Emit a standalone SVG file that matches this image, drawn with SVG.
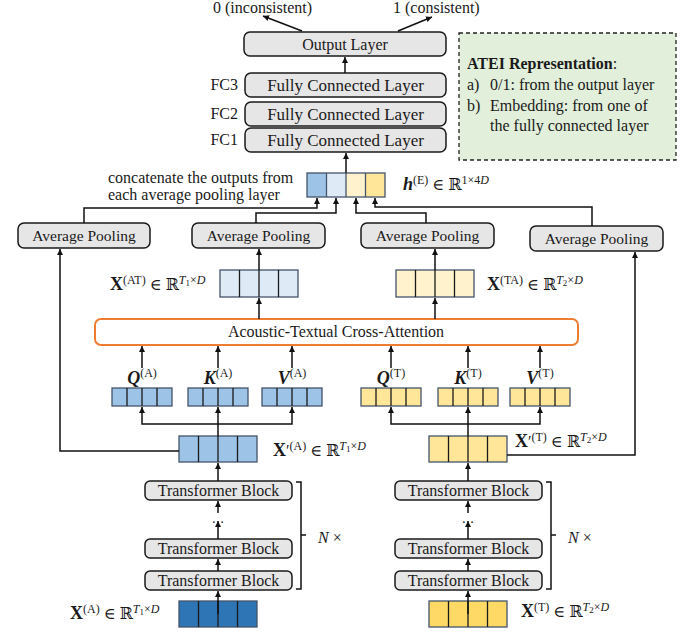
<svg xmlns="http://www.w3.org/2000/svg" width="693" height="635" viewBox="0 0 693 635">
<defs>
<marker id="ah" viewBox="0 0 10 10" refX="10" refY="5" markerWidth="6" markerHeight="6" markerUnits="userSpaceOnUse" orient="auto"><path d="M0,0 L10,5 L0,10 z" fill="#111"/></marker>
<style>
.box{fill:#e7e6e6;stroke:#1a1a1a;stroke-width:1.5}
.t{font-family:"Liberation Serif","Times New Roman",serif;fill:#1a1a1a}
.c{text-anchor:middle}
.ln{fill:none;stroke:#111;stroke-width:1.5}
.ar{fill:none;stroke:#111;stroke-width:1.5;marker-end:url(#ah)}
.vo{stroke:#44546a;stroke-width:1.3}
.dv{stroke:#1a1a1a;stroke-width:1.3}
.m{font-family:"Liberation Serif","DejaVu Serif",serif;fill:#1a1a1a;font-size:16px}
.q{font-size:18px}
.sp{font-size:12px}
.sb{font-size:9px}
.it{font-style:italic}
.b{font-weight:bold}
</style>
</defs>

<g id="top-labels">
<text class="t" x="213" y="13" font-size="16">0 (inconsistent)</text>
<text class="t" x="393" y="13" font-size="16">1 (consistent)</text>
</g>

<g id="output-layer"><rect class="box" x="244" y="32" width="202" height="24" rx="6"/><text class="t c" x="345" y="49.5" font-size="16">Output Layer</text></g>
<g id="fc3"><rect class="box" x="245" y="73" width="201" height="24" rx="6"/><text class="t c" x="345.5" y="90.5" font-size="17">Fully Connected Layer</text><text class="t" x="238" y="90" font-size="16" text-anchor="end">FC3</text></g>
<g id="fc2"><rect class="box" x="245" y="102" width="201" height="24" rx="6"/><text class="t c" x="345.5" y="119.5" font-size="17">Fully Connected Layer</text><text class="t" x="238" y="119" font-size="16" text-anchor="end">FC2</text></g>
<g id="fc1"><rect class="box" x="245" y="128" width="201" height="24" rx="6"/><text class="t c" x="345.5" y="145.5" font-size="17">Fully Connected Layer</text><text class="t" x="238" y="145" font-size="16" text-anchor="end">FC1</text></g>

<g id="atei">
<rect x="459" y="33" width="217" height="127" fill="#e2efda" stroke="#222" stroke-width="1.3" stroke-dasharray="4,3"/>
<text class="t" x="467" y="69" font-size="16"><tspan font-weight="bold">ATEI Representation</tspan>:</text>
<text class="t" x="467" y="90" font-size="16">a)</text><text class="t" x="490" y="90" font-size="16">0/1: from the output layer</text>
<text class="t" x="467" y="111" font-size="16">b)</text><text class="t" x="490" y="111" font-size="16">Embedding: from one of</text>
<text class="t" x="490" y="131" font-size="16">the fully connected layer</text>
</g>

<g id="concat">
<rect x="307" y="173" width="19.5" height="24" fill="#9dc3e6"/>
<rect x="326.5" y="173" width="19.5" height="24" fill="#deebf7"/>
<rect x="346" y="173" width="19.5" height="24" fill="#fff2cc"/>
<rect x="365.5" y="173" width="19.5" height="24" fill="#ffe699"/>
<rect class="vo" x="307" y="173" width="78" height="24" fill="none"/>
<path class="vo" d="M326.5,173V197M346,173V197M365.5,173V197"/>
<text class="t" x="108" y="183" font-size="16">concatenate the outputs from</text>
<text class="t" x="108" y="200" font-size="16">each average pooling layer</text>
<text class="m" x="403" y="190"><tspan class="b it q">h</tspan><tspan class="sp" dy="-6">(E)</tspan><tspan dy="6"> ∈ ℝ</tspan><tspan class="sp" dy="-6">1×4</tspan><tspan class="sp it">D</tspan></text>
</g>

<g id="ap1"><rect class="box" x="18" y="223" width="132" height="25" rx="6"/><text class="t c" x="84" y="240.5" font-size="15.5">Average Pooling</text></g>
<g id="ap2"><rect class="box" x="192" y="223" width="133" height="25" rx="6"/><text class="t c" x="258.5" y="240.5" font-size="15.5">Average Pooling</text></g>
<g id="ap3"><rect class="box" x="361" y="223" width="133" height="25" rx="6"/><text class="t c" x="427.5" y="240.5" font-size="15.5">Average Pooling</text></g>
<g id="ap4"><rect class="box" x="530" y="226" width="133" height="25" rx="6"/><text class="t c" x="596.5" y="243.5" font-size="15.5">Average Pooling</text></g>

<g id="x-at">
<rect class="vo" x="220" y="270" width="78" height="27" fill="#deebf7"/>
<path class="dv" d="M239.5,270V297M259,270V297M278.5,270V297"/>
<text class="m" x="110" y="290"><tspan class="b q">X</tspan><tspan class="sp" dy="-6">(AT)</tspan><tspan dy="6"> ∈ ℝ</tspan><tspan class="sp it" dy="-6">T</tspan><tspan class="sb" dy="2">1</tspan><tspan class="sp" dy="-2">×</tspan><tspan class="sp it">D</tspan></text>
</g>
<g id="x-ta">
<rect class="vo" x="396" y="270" width="78" height="27" fill="#fff2cc"/>
<path class="dv" d="M415.5,270V297M435,270V297M454.5,270V297"/>
<text class="m" x="487" y="290"><tspan class="b q">X</tspan><tspan class="sp" dy="-6">(TA)</tspan><tspan dy="6"> ∈ ℝ</tspan><tspan class="sp it" dy="-6">T</tspan><tspan class="sb" dy="2">2</tspan><tspan class="sp" dy="-2">×</tspan><tspan class="sp it">D</tspan></text>
</g>

<g id="cross-attention"><rect x="95" y="319" width="483" height="26" rx="6" fill="#fff" stroke="#ed7d31" stroke-width="2"/><text class="t c" x="336" y="337" font-size="16">Acoustic-Textual Cross-Attention</text></g>

<g id="qkv-a">
<rect class="vo" x="112" y="388" width="60" height="18" fill="#9dc3e6"/><path class="dv" d="M127,388V406M142,388V406M157,388V406"/>
<rect class="vo" x="188" y="388" width="60" height="18" fill="#9dc3e6"/><path class="dv" d="M203,388V406M218,388V406M233,388V406"/>
<rect class="vo" x="262" y="388" width="60" height="18" fill="#9dc3e6"/><path class="dv" d="M277,388V406M292,388V406M307,388V406"/>
<text class="m c" x="142" y="384"><tspan class="b it q">Q</tspan><tspan class="sp" dy="-7">(A)</tspan></text>
<text class="m c" x="218" y="384"><tspan class="b it q">K</tspan><tspan class="sp" dy="-7">(A)</tspan></text>
<text class="m c" x="292" y="384"><tspan class="b it q">V</tspan><tspan class="sp" dy="-7">(A)</tspan></text>
</g>
<g id="qkv-t">
<rect class="vo" x="361" y="388" width="60" height="18" fill="#ffe699"/><path class="dv" d="M376,388V406M391,388V406M406,388V406"/>
<rect class="vo" x="438" y="388" width="60" height="18" fill="#ffe699"/><path class="dv" d="M453,388V406M468,388V406M483,388V406"/>
<rect class="vo" x="510" y="388" width="60" height="18" fill="#ffe699"/><path class="dv" d="M525,388V406M540,388V406M555,388V406"/>
<text class="m c" x="391" y="384"><tspan class="b it q">Q</tspan><tspan class="sp" dy="-7">(T)</tspan></text>
<text class="m c" x="468" y="384"><tspan class="b it q">K</tspan><tspan class="sp" dy="-7">(T)</tspan></text>
<text class="m c" x="540" y="384"><tspan class="b it q">V</tspan><tspan class="sp" dy="-7">(T)</tspan></text>
</g>

<g id="xp-a">
<rect class="vo" x="179" y="436" width="78" height="26" fill="#9dc3e6"/>
<path class="dv" d="M198.5,436V462M218,436V462M237.5,436V462"/>
<text class="m" x="273" y="456"><tspan class="b q">X</tspan>′<tspan class="sp" dy="-6">(A)</tspan><tspan dy="6"> ∈ ℝ</tspan><tspan class="sp it" dy="-6">T</tspan><tspan class="sb" dy="2">1</tspan><tspan class="sp" dy="-2">×</tspan><tspan class="sp it">D</tspan></text>
</g>
<g id="xp-t">
<rect class="vo" x="429" y="436" width="78" height="26" fill="#ffe699"/>
<path class="dv" d="M448.5,436V462M468,436V462M487.5,436V462"/>
<text class="m" x="515" y="447"><tspan class="b q">X</tspan>′<tspan class="sp" dy="-6">(T)</tspan><tspan dy="6"> ∈ ℝ</tspan><tspan class="sp it" dy="-6">T</tspan><tspan class="sb" dy="2">2</tspan><tspan class="sp" dy="-2">×</tspan><tspan class="sp it">D</tspan></text>
</g>

<g id="tb-a">
<rect class="box" x="145" y="481" width="147" height="19" rx="5"/><text class="t c" x="218.5" y="496" font-size="16">Transformer Block</text>
<rect class="box" x="145" y="539" width="147" height="19" rx="5"/><text class="t c" x="218.5" y="554" font-size="16">Transformer Block</text>
<rect class="box" x="145" y="571" width="147" height="19" rx="5"/><text class="t c" x="218.5" y="586" font-size="16">Transformer Block</text>
<text class="t c" x="218" y="527" font-size="14">·  ·</text>
<path class="ln" d="M296,482H301V589H296M301,535H306"/>
<text class="m" x="318" y="543"><tspan class="it">N</tspan> ×</text>
</g>
<g id="tb-t">
<rect class="box" x="395" y="481" width="147" height="19" rx="5"/><text class="t c" x="468.5" y="496" font-size="16">Transformer Block</text>
<rect class="box" x="395" y="539" width="147" height="19" rx="5"/><text class="t c" x="468.5" y="554" font-size="16">Transformer Block</text>
<rect class="box" x="395" y="571" width="147" height="19" rx="5"/><text class="t c" x="468.5" y="586" font-size="16">Transformer Block</text>
<text class="t c" x="468" y="527" font-size="14">·  ·</text>
<path class="ln" d="M546,482H551V589H546M551,535H556"/>
<text class="m" x="568" y="543"><tspan class="it">N</tspan> ×</text>
</g>

<g id="x-a">
<rect class="vo" x="179" y="601" width="78" height="26" fill="#2e75b6"/>
<path class="dv" d="M198.5,601V627M218,601V627M237.5,601V627"/>
<text class="m" x="70" y="619"><tspan class="b q">X</tspan><tspan class="sp" dy="-6">(A)</tspan><tspan dy="6"> ∈ ℝ</tspan><tspan class="sp it" dy="-6">T</tspan><tspan class="sb" dy="2">1</tspan><tspan class="sp" dy="-2">×</tspan><tspan class="sp it">D</tspan></text>
</g>
<g id="x-t">
<rect class="vo" x="429" y="601" width="78" height="26" fill="#ffd966"/>
<path class="dv" d="M448.5,601V627M468,601V627M487.5,601V627"/>
<text class="m" x="521" y="617"><tspan class="b q">X</tspan><tspan class="sp" dy="-6">(T)</tspan><tspan dy="6"> ∈ ℝ</tspan><tspan class="sp it" dy="-6">T</tspan><tspan class="sb" dy="2">2</tspan><tspan class="sp" dy="-2">×</tspan><tspan class="sp it">D</tspan></text>
</g>

<g id="connectors">
<path class="ar" d="M302,31L263,16"/>
<path class="ar" d="M398,31L432,17"/>
<path class="ar" d="M345,73V57"/>
<path class="ar" d="M346,173V153"/>
<path class="ar" d="M84,223V208H317V198"/>
<path class="ar" d="M256,223V213H336V198"/>
<path class="ar" d="M426,223V213H356V198"/>
<path class="ar" d="M592,226V207H375V198"/>
<path class="ar" d="M259,270V249"/>
<path class="ar" d="M435,270V249"/>
<path class="ar" d="M259,319V298"/>
<path class="ar" d="M435,319V298"/>
<path class="ar" d="M142,368V346"/>
<path class="ar" d="M218,368V346"/>
<path class="ar" d="M292,368V346"/>
<path class="ar" d="M391,368V346"/>
<path class="ar" d="M468,368V346"/>
<path class="ar" d="M540,368V346"/>
<path class="ar" d="M218,424H142V407"/>
<path class="ar" d="M218,424H292V407"/>
<path class="ar" d="M218,436V407"/>
<path class="ar" d="M468,424H391V407"/>
<path class="ar" d="M468,424H540V407"/>
<path class="ar" d="M468,436V407"/>
<path class="ar" d="M179,451H60V249"/>
<path class="ar" d="M507,455H635V252"/>
<path class="ar" d="M218,481V463"/>
<path class="ar" d="M218,513V501"/>
<path class="ar" d="M218,539V521"/>
<path class="ar" d="M218,571V559"/>
<path class="ar" d="M218,614V591"/>
<path class="ar" d="M468,481V463"/>
<path class="ar" d="M468,513V501"/>
<path class="ar" d="M468,539V521"/>
<path class="ar" d="M468,571V559"/>
<path class="ar" d="M468,614V591"/>
</g>
</svg>
